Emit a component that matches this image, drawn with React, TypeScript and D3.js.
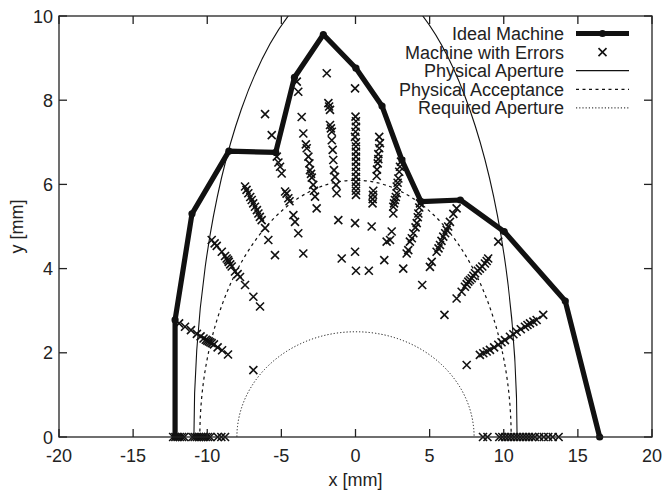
import React, { useEffect, useRef } from "react";
import * as d3 from "d3";

const width = 662;
const height = 491;
const margin = { top: 16, right: 10, bottom: 54, left: 59 };

const xTicks = [-20, -15, -10, -5, 0, 5, 10, 15, 20];
const yTicks = [0, 2, 4, 6, 8, 10];

// ideal machine (thick line with dots)
const idealX = [-12.17, -12.17, -11.03, -8.54, -5.38, -4.12, -2.17, 0.03, 1.79, 3.13, 4.42, 7.07, 10.03, 14.15, 16.47];
const idealY = [0, 2.78, 5.3, 6.79, 6.76, 8.54, 9.56, 8.76, 7.86, 6.58, 5.59, 5.63, 4.88, 3.23, 0];

// half-axes [a, b] of the aperture ellipses
const physAperture = [10.9, 11.0];
const physAcceptance = [10.5, 6.1];
const reqAperture = [8.0, 2.5];

// machine with errors, read ray by ray
const rayA = [[-11.9, 2.7], [-11.5, 2.62], [-11.1, 2.54], [-10.7, 2.45], [-10.45, 2.39], [-10.25, 2.34], [-10.1, 2.31], [-10.0, 2.29], [-9.9, 2.27], [-9.8, 2.25], [-9.7, 2.23], [-9.55, 2.2], [-9.3, 2.13], [-9.0, 2.06], [-8.6, 1.96]];
const rayB = [[-9.7, 4.68], [-9.5, 4.6], [-9.36, 4.54], [-9.02, 4.4], [-8.8, 4.3], [-8.69, 4.24], [-8.6, 4.2], [-8.55, 4.16], [-8.45, 4.1], [-8.35, 4.05], [-8.13, 3.93], [-7.95, 3.87], [-7.79, 3.8], [-7.45, 3.61], [-6.89, 3.33], [-6.44, 3.1]];
const rayC = [[-7.45, 5.95], [-7.35, 5.87], [-7.23, 5.79], [-7.1, 5.7], [-7.0, 5.63], [-6.9, 5.55], [-6.78, 5.47], [-6.65, 5.39], [-6.55, 5.31], [-6.45, 5.23], [-6.33, 5.15], [-6.1, 4.96], [-5.88, 4.68], [-5.43, 4.32]];
const rayD = [[-4.75, 5.83], [-4.65, 5.78], [-4.53, 5.67], [-4.45, 5.6], [-4.19, 5.27], [-4.08, 5.11], [-3.86, 4.84], [-3.52, 4.36]];
const rayE = [[-6.1, 7.67], [-5.65, 7.17], [-5.31, 6.66], [-5.2, 6.52], [-5.09, 6.42], [-4.98, 6.26]];
const rayF = [[-3.96, 8.44], [-3.86, 8.2], [-3.63, 7.6], [-3.52, 7.21], [-3.35, 6.95], [-3.29, 6.86], [-3.18, 6.66], [-3.11, 6.5], [-3.07, 6.34], [-3.0, 6.25], [-2.95, 6.16], [-2.85, 5.99], [-2.8, 5.85], [-2.73, 5.71], [-2.62, 5.43]];
const rayG = [[-1.94, 8.64], [-1.83, 7.93], [-1.78, 7.85], [-1.72, 7.77], [-1.72, 7.41], [-1.66, 7.33], [-1.6, 7.25], [-1.6, 7.05], [-1.54, 6.82], [-1.5, 6.58], [-1.45, 6.34], [-1.38, 6.18], [-1.31, 5.99], [-1.27, 5.79], [-1.16, 5.15], [-0.93, 4.24]];
const rayH = [[-0.03, 8.28], [0.0, 7.61], [0.03, 7.5], [0.03, 7.37], [0.0, 7.25], [-0.03, 7.13], [0.03, 7.0], [0.03, 6.9], [0.03, 6.78], [0.03, 6.66], [0.03, 6.54], [0.03, 6.42], [0.03, 6.3], [0.03, 6.18], [0.03, 6.06], [0.03, 5.95], [0.03, 5.85], [0.03, 5.75], [-0.03, 5.08], [-0.03, 4.4], [0.03, 3.95], [0.9, 3.95]];
const rayI = [[1.6, 7.13], [1.65, 6.98], [1.6, 6.86], [1.54, 6.72], [1.54, 6.6], [1.5, 6.5], [1.45, 6.35], [1.43, 6.2], [1.2, 5.85], [1.18, 5.75], [1.16, 5.65], [1.15, 5.55], [1.09, 5.0], [1.94, 4.2]];
const rayJ = [[3.07, 6.54], [3.0, 6.42], [2.95, 6.3], [2.89, 6.14], [2.84, 6.04], [2.78, 5.95], [2.78, 5.79], [2.72, 5.7], [2.66, 5.63], [2.6, 5.55], [2.55, 5.47], [2.55, 5.31], [2.44, 4.88], [2.33, 4.68], [2.1, 4.64]];
const rayK = [[4.35, 5.55], [4.3, 5.45], [4.24, 5.31], [4.2, 5.22], [4.13, 5.08], [4.05, 4.98], [3.9, 4.84], [3.8, 4.72], [3.67, 4.64], [3.56, 4.44], [3.45, 4.36], [3.22, 4.0], [4.5, 3.61]];
const rayL = [[6.82, 5.43], [6.6, 5.3], [6.37, 5.11], [6.25, 5.0], [6.15, 4.92], [6.05, 4.84], [5.92, 4.76], [5.8, 4.66], [5.7, 4.56], [5.6, 4.48], [5.47, 4.4], [5.14, 4.16], [5.02, 4.04], [6.0, 2.9]];
const rayM = [[9.63, 4.64], [8.95, 4.24], [8.85, 4.18], [8.73, 4.12], [8.55, 4.05], [8.39, 4.0], [8.25, 3.95], [8.06, 3.89], [7.95, 3.83], [7.84, 3.77], [7.72, 3.73], [7.61, 3.69], [7.5, 3.63], [7.38, 3.57], [7.16, 3.45], [6.82, 3.29]];
const rayN = [[12.66, 2.9], [12.22, 2.78], [12.0, 2.74], [11.77, 2.7], [11.6, 2.66], [11.43, 2.62], [11.15, 2.56], [10.87, 2.5], [10.65, 2.44], [10.42, 2.38], [10.08, 2.3], [9.85, 2.25], [9.63, 2.19], [9.35, 2.13], [9.07, 2.07], [8.85, 2.03], [8.62, 1.99], [8.39, 1.95], [7.5, 1.71]];
const strays = [[-6.89, 1.59]];
// points lying on y = 0
const floorLeft = [-12.3, -12.15, -12.0, -11.85, -11.7, -11.55, -11.0, -10.85, -10.7, -10.55, -10.4, -10.25, -10.1, -9.95, -9.8, -9.3, -9.05, -8.8];
const floorRight = [8.6, 8.9, 9.7, 9.9, 10.1, 10.3, 10.5, 10.7, 10.9, 11.1, 11.3, 11.5, 11.7, 11.9, 12.1, 12.4, 12.7, 13.0, 13.3, 13.7];

const legendNames = ["Ideal Machine", "Machine with Errors", "Physical Aperture", "Physical Acceptance", "Required Aperture"];

const FONT = "'Liberation Sans', Arial, Helvetica, sans-serif";
const crossPath = "M-4,-4L4,4M-4,4L4,-4";

function drawChart(node) {
  const svg = d3.select(node);
  svg.selectAll("*").remove();

  const x = d3.scaleLinear().domain([-20, 20]).range([margin.left, width - margin.right]);
  const y = d3.scaleLinear().domain([0, 10]).range([height - margin.bottom, margin.top]);

  svg.append("rect").attr("width", width).attr("height", height).attr("fill", "#fff");

  svg.append("defs").append("clipPath").attr("id", "plotClip")
    .append("rect")
    .attr("x", x(-20)).attr("y", y(10))
    .attr("width", x(20) - x(-20)).attr("height", y(0) - y(10));

  const plot = svg.append("g").attr("clip-path", "url(#plotClip)");

  // aperture ellipses
  const ellipses = [
    { ab: physAperture, dash: null, w: 1.1 },
    { ab: physAcceptance, dash: "3,3.5", w: 1.2 },
    { ab: reqAperture, dash: "1.2,2", w: 1 },
  ];
  ellipses.forEach(e => {
    plot.append("ellipse")
      .attr("cx", x(0)).attr("cy", y(0))
      .attr("rx", x(e.ab[0]) - x(0))
      .attr("ry", y(0) - y(e.ab[1]))
      .attr("fill", "none")
      .attr("stroke", "#111")
      .attr("stroke-width", e.w)
      .attr("stroke-dasharray", e.dash);
  });

  // machine with errors
  const errPts = [
    ...rayA, ...rayB, ...rayC, ...rayD, ...rayE, ...rayF, ...rayG,
    ...rayH, ...rayI, ...rayJ, ...rayK, ...rayL, ...rayM, ...rayN, ...strays,
    ...floorLeft.map(v => [v, 0]), ...floorRight.map(v => [v, 0]),
  ];
  svg.append("g")
    .selectAll("path.err")
    .data(errPts)
    .enter()
    .append("path")
    .attr("class", "err")
    .attr("d", crossPath)
    .attr("transform", d => `translate(${x(d[0])},${y(d[1])})`)
    .attr("fill", "none")
    .attr("stroke", "#111")
    .attr("stroke-width", 1.6);

  // ideal machine
  const ideal = idealX.map((v, i) => [v, idealY[i]]);
  const line = d3.line().x(d => x(d[0])).y(d => y(d[1]));
  svg.append("path")
    .datum(ideal)
    .attr("d", line)
    .attr("fill", "none")
    .attr("stroke", "#111")
    .attr("stroke-width", 5.2)
    .attr("stroke-linejoin", "round");
  svg.append("g")
    .selectAll("circle")
    .data(ideal)
    .enter()
    .append("circle")
    .attr("cx", d => x(d[0]))
    .attr("cy", d => y(d[1]))
    .attr("r", 3.6)
    .attr("fill", "#111");

  // frame and inward ticks
  const axes = svg.append("g").attr("stroke", "#222").attr("stroke-width", 1.3);
  axes.append("rect")
    .attr("x", x(-20)).attr("y", y(10))
    .attr("width", x(20) - x(-20)).attr("height", y(0) - y(10))
    .attr("fill", "none");
  const tl = 8;
  xTicks.forEach(t => {
    axes.append("line").attr("x1", x(t)).attr("x2", x(t)).attr("y1", y(0)).attr("y2", y(0) - tl);
    axes.append("line").attr("x1", x(t)).attr("x2", x(t)).attr("y1", y(10)).attr("y2", y(10) + tl);
  });
  yTicks.forEach(t => {
    axes.append("line").attr("x1", x(-20)).attr("x2", x(-20) + tl).attr("y1", y(t)).attr("y2", y(t));
    axes.append("line").attr("x1", x(20)).attr("x2", x(20) - tl).attr("y1", y(t)).attr("y2", y(t));
  });

  const txt = svg.append("g").attr("font-family", FONT).attr("font-size", 18).attr("fill", "#222");
  xTicks.forEach(t => {
    txt.append("text").attr("x", x(t)).attr("y", y(0) + 25).attr("text-anchor", "middle").text(t);
  });
  yTicks.forEach(t => {
    txt.append("text").attr("x", x(-20) - 6).attr("y", y(t) + 6.5).attr("text-anchor", "end").text(t);
  });
  txt.append("text").attr("x", x(0)).attr("y", 486).attr("text-anchor", "middle").text("x [mm]");
  txt.append("text")
    .attr("transform", `translate(23,${(y(0) + y(10)) / 2}) rotate(-90)`)
    .attr("text-anchor", "middle")
    .text("y [mm]");

  // legend
  const lg = svg.append("g");
  const lx0 = 576, lx1 = 629, ltx = 564;
  legendNames.forEach((name, i) => {
    const cy = 33.5 + i * 18.6;
    lg.append("text")
      .attr("x", ltx).attr("y", cy + 6.5)
      .attr("text-anchor", "end")
      .attr("font-family", FONT).attr("font-size", 18).attr("fill", "#222")
      .text(name);
    if (i === 0) {
      lg.append("line").attr("x1", lx0).attr("x2", lx1).attr("y1", cy).attr("y2", cy)
        .attr("stroke", "#111").attr("stroke-width", 5.2);
      lg.append("circle").attr("cx", (lx0 + lx1) / 2).attr("cy", cy).attr("r", 3.6).attr("fill", "#111");
    } else if (i === 1) {
      lg.append("path").attr("d", crossPath)
        .attr("transform", `translate(${(lx0 + lx1) / 2},${cy})`)
        .attr("stroke", "#111").attr("stroke-width", 1.6);
    } else {
      lg.append("line").attr("x1", lx0).attr("x2", lx1).attr("y1", cy).attr("y2", cy)
        .attr("stroke", "#111")
        .attr("stroke-width", i === 4 ? 1 : 1.2)
        .attr("stroke-dasharray", i === 3 ? "3,3.5" : i === 4 ? "1.2,2" : null);
    }
  });
}

export default function App() {
  const ref = useRef(null);
  useEffect(() => {
    document.body.style.margin = "0";
    drawChart(ref.current);
  }, []);
  return <svg ref={ref} width={width} height={height} style={{ display: "block" }} />;
}
